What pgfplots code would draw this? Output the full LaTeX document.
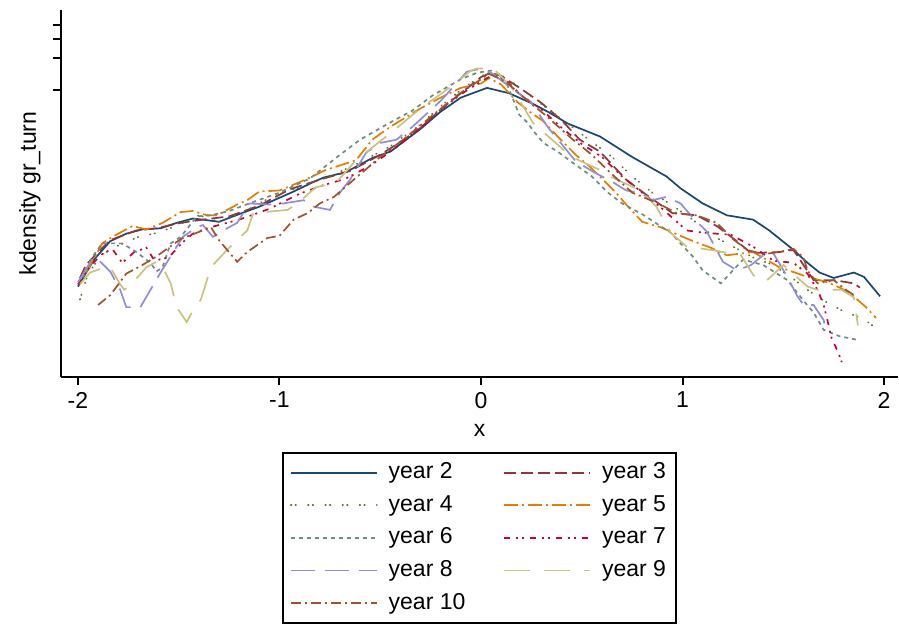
\documentclass[border=0pt]{standalone}
\usepackage{fontspec}
\setmainfont{Liberation Sans}
\usepackage{pgfplots}
\pgfplotsset{compat=1.18}

% Stata s2color
\definecolor{snavy}{HTML}{1A476F}
\definecolor{smaroon}{HTML}{90353B}
\definecolor{sgreen}{HTML}{55752F}
\definecolor{sorange}{HTML}{E37E00}
\definecolor{steal}{HTML}{6E8E84}
\definecolor{scran}{HTML}{C10534}
\definecolor{slav}{HTML}{938DD2}
\definecolor{skhaki}{HTML}{CAC27E}
\definecolor{ssienna}{HTML}{A0522D}

\begin{document}
\begin{tikzpicture}
\begin{axis}[
  name=ax,
  scale only axis,
  width=418.5pt, height=183.5pt,
  xmin=-2.084, xmax=2.069,
  ymin=-3.657, ymax=-0.259,
  axis x line*=bottom, axis y line*=left,
  axis line style={line width=1pt},
  tick align=outside,
  major tick length=4pt,
  tick style={line width=1pt, black},
  xtick={-2,-1,0,1,2},
  xticklabels={-2,-1,0,1,2},
  % y is log10 of the density: ticks at .1 .2 .3 .4, unlabelled
  ytick={-1,-0.699,-0.523,-0.398},
  yticklabels={},
  font=\fontsize{11.5}{13.8}\selectfont,
  tick label style={font=\fontsize{11.5}{13.8}\selectfont},
  xlabel={x},
  ylabel={kdensity gr\_turn},
  xlabel style={at={(axis description cs:0.5,-0.1444)}, anchor=center},
  ylabel style={at={(axis description cs:-0.037,0.5)}, anchor=center},
  every axis plot/.append style={line width=0.85pt},
  legend columns=2,
  legend cell align=left,
  legend image code/.code={\draw[#1] (0pt,0pt) -- (43pt,0pt);},
  legend style={
    at={(axis description cs:0.5,-0.2044)}, anchor=north,
    draw=black, line width=0.9pt,
    inner xsep=3.5pt, inner ysep=2.9pt,
    row sep=2.3pt,
    font=\fontsize{11.5}{13.8}\selectfont,
    nodes={inner sep=1.5pt, text height=8.5pt, text depth=2.5pt},
    /tikz/every odd column/.append style={column sep=4pt},
    /tikz/every even column/.append style={column sep=17.5pt},
  },
]

% year 2
\addplot[snavy] coordinates {
(-2.00,-2.82) (-1.92,-2.57) (-1.84,-2.40) (-1.76,-2.33) (-1.68,-2.29)
(-1.59,-2.28) (-1.51,-2.23) (-1.43,-2.19) (-1.38,-2.20) (-1.30,-2.22)
(-1.23,-2.17) (-1.10,-2.08) (-0.93,-1.94) (-0.83,-1.85) (-0.78,-1.81)
(-0.67,-1.76) (-0.54,-1.63) (-0.45,-1.57) (-0.40,-1.50) (-0.30,-1.36)
(-0.20,-1.20) (-0.10,-1.07) (0.03,-0.98) (0.14,-1.03) (0.26,-1.13)
(0.34,-1.21) (0.43,-1.31) (0.59,-1.43) (0.75,-1.62) (0.92,-1.80)
(0.99,-1.91) (1.10,-2.05) (1.22,-2.16) (1.35,-2.20) (1.43,-2.30)
(1.55,-2.48) (1.62,-2.60) (1.68,-2.69) (1.75,-2.74) (1.85,-2.69)
(1.90,-2.73) (1.98,-2.91)
};
\addlegendentry{year 2}

% year 3
\addplot[smaroon, dash pattern=on 6pt off 2.5pt] coordinates {
(-1.99,-2.74) (-1.96,-2.62) (-1.90,-2.50) (-1.84,-2.39) (-1.71,-2.30)
(-1.61,-2.28) (-1.49,-2.23) (-1.38,-2.20) (-1.25,-2.17) (-1.10,-2.07)
(-0.95,-1.92) (-0.80,-1.83) (-0.65,-1.75) (-0.50,-1.60) (-0.40,-1.48)
(-0.30,-1.35) (-0.20,-1.18) (-0.10,-1.03) (0.00,-0.88) (0.05,-0.84)
(0.10,-0.87) (0.20,-0.99) (0.30,-1.12) (0.40,-1.28) (0.49,-1.46)
(0.59,-1.57) (0.66,-1.71) (0.72,-1.83) (0.82,-1.97) (0.95,-2.14)
(1.07,-2.16) (1.17,-2.26) (1.27,-2.40) (1.34,-2.51) (1.48,-2.50)
(1.55,-2.48) (1.60,-2.62) (1.65,-2.76) (1.75,-2.76) (1.85,-2.79)
(1.88,-2.83)
};
\addlegendentry{year 3}

% year 4
\addplot[sgreen, line cap=round, dash pattern=on 0.3pt off 2pt on 0.3pt off 6pt] coordinates {
(-1.99,-2.94) (-1.95,-2.70) (-1.88,-2.52) (-1.80,-2.44) (-1.70,-2.36)
(-1.60,-2.32) (-1.50,-2.25) (-1.40,-2.16) (-1.30,-2.22) (-1.20,-2.15)
(-1.05,-2.00) (-0.90,-1.90) (-0.75,-1.80) (-0.60,-1.67) (-0.45,-1.52)
(-0.30,-1.32) (-0.20,-1.15) (-0.10,-1.00) (0.00,-0.87) (0.07,-0.83)
(0.15,-0.92) (0.25,-1.06) (0.35,-1.20) (0.45,-1.34) (0.55,-1.48)
(0.65,-1.62) (0.75,-1.80) (0.85,-1.95) (0.95,-2.07) (1.05,-2.20)
(1.15,-2.35) (1.25,-2.45) (1.35,-2.55) (1.45,-2.62) (1.55,-2.75)
(1.62,-2.85) (1.70,-2.95) (1.80,-3.05) (1.90,-3.12) (1.97,-3.22)
};
\addlegendentry{year 4}

% year 5
\addplot[sorange, dash pattern=on 7pt off 2pt on 1pt off 2pt] coordinates {
(-1.96,-2.69) (-1.91,-2.53) (-1.88,-2.42) (-1.83,-2.36) (-1.73,-2.26)
(-1.66,-2.29) (-1.58,-2.23) (-1.49,-2.13) (-1.43,-2.12) (-1.36,-2.16)
(-1.31,-2.16) (-1.28,-2.13) (-1.21,-2.06) (-1.16,-2.02) (-1.10,-1.94)
(-1.00,-1.93) (-0.87,-1.83) (-0.77,-1.74) (-0.62,-1.65) (-0.54,-1.46)
(-0.45,-1.34) (-0.37,-1.25) (-0.30,-1.17) (-0.20,-1.07) (-0.10,-0.98)
(0.00,-0.94) (0.04,-0.89) (0.10,-0.95) (0.18,-1.11) (0.24,-1.20)
(0.31,-1.29) (0.38,-1.43) (0.47,-1.60) (0.54,-1.71) (0.67,-1.95)
(0.72,-2.06) (0.80,-2.22) (0.89,-2.27) (1.04,-2.39) (1.14,-2.46)
(1.22,-2.53) (1.35,-2.50) (1.48,-2.64) (1.62,-2.73) (1.72,-2.78)
(1.78,-2.83) (1.83,-2.88) (1.91,-3.01) (1.96,-3.11)
};
\addlegendentry{year 5}

% year 6
\addplot[steal, dash pattern=on 2pt off 2pt] coordinates {
(-1.99,-2.80) (-1.93,-2.55) (-1.88,-2.42) (-1.78,-2.42) (-1.71,-2.50)
(-1.64,-2.60) (-1.61,-2.68) (-1.58,-2.64) (-1.54,-2.42) (-1.49,-2.36)
(-1.41,-2.17) (-1.34,-2.16) (-1.25,-2.12) (-1.15,-2.05) (-1.00,-1.95)
(-0.85,-1.82) (-0.70,-1.60) (-0.60,-1.46) (-0.45,-1.30) (-0.34,-1.19)
(-0.24,-1.05) (-0.10,-0.90) (-0.02,-0.84) (0.05,-0.82) (0.13,-0.95)
(0.19,-1.23) (0.23,-1.30) (0.26,-1.38) (0.31,-1.49) (0.38,-1.57)
(0.46,-1.68) (0.55,-1.80) (0.63,-1.95) (0.70,-2.05) (0.80,-2.15)
(0.94,-2.32) (1.05,-2.54) (1.10,-2.67) (1.19,-2.79) (1.22,-2.73)
(1.30,-2.57) (1.40,-2.62) (1.52,-2.76) (1.60,-2.95) (1.65,-3.06)
(1.70,-3.22) (1.78,-3.28) (1.86,-3.31)
};
\addlegendentry{year 6}

% year 7
\addplot[scran, dash pattern=on 3pt off 3pt on 1pt off 2pt on 1pt off 3pt] coordinates {
(-2.00,-2.80) (-1.94,-2.63) (-1.88,-2.52) (-1.83,-2.47) (-1.78,-2.60)
(-1.72,-2.50) (-1.66,-2.46) (-1.62,-2.58) (-1.55,-2.55) (-1.48,-2.41)
(-1.43,-2.33) (-1.36,-2.28) (-1.30,-2.25) (-1.20,-2.20) (-1.05,-2.10)
(-0.90,-1.96) (-0.78,-1.88) (-0.67,-1.82) (-0.54,-1.69) (-0.42,-1.53)
(-0.30,-1.35) (-0.20,-1.18) (-0.10,-1.04) (0.00,-0.92) (0.06,-0.86)
(0.12,-0.90) (0.20,-1.05) (0.30,-1.18) (0.40,-1.35) (0.50,-1.50)
(0.60,-1.62) (0.70,-1.80) (0.80,-1.95) (0.90,-2.10) (1.02,-2.30)
(1.10,-2.32) (1.24,-2.34) (1.35,-2.45) (1.45,-2.58) (1.55,-2.60)
(1.62,-2.70) (1.67,-2.85) (1.70,-2.99) (1.72,-3.14) (1.74,-3.30)
(1.77,-3.42) (1.79,-3.52)
};
\addlegendentry{year 7}

% year 8
\addplot[slav, dash pattern=on 12pt off 5pt] coordinates {
(-2.00,-2.78) (-1.94,-2.60) (-1.90,-2.57) (-1.84,-2.68) (-1.79,-2.85)
(-1.76,-3.01) (-1.69,-3.01) (-1.64,-2.85) (-1.59,-2.69) (-1.54,-2.54)
(-1.48,-2.36) (-1.41,-2.27) (-1.38,-2.25) (-1.33,-2.36) (-1.28,-2.30)
(-1.21,-2.23) (-1.15,-2.05) (-1.05,-2.06) (-0.98,-2.05) (-0.88,-2.02)
(-0.83,-2.08) (-0.75,-2.11) (-0.70,-1.95) (-0.65,-1.83) (-0.57,-1.58)
(-0.50,-1.49) (-0.42,-1.46) (-0.34,-1.34) (-0.20,-1.10) (-0.07,-0.83)
(-0.02,-0.81) (0.05,-0.84) (0.15,-0.98) (0.25,-1.12) (0.33,-1.34)
(0.47,-1.66) (0.56,-1.76) (0.66,-1.86) (0.72,-1.93) (0.79,-1.95)
(0.85,-2.02) (0.92,-1.99) (0.99,-2.05) (1.05,-2.18) (1.12,-2.31)
(1.20,-2.59) (1.27,-2.67) (1.34,-2.62) (1.40,-2.53) (1.45,-2.51)
(1.52,-2.73) (1.57,-2.91) (1.60,-2.99) (1.65,-2.99) (1.70,-3.13)
(1.71,-3.22)
};
\addlegendentry{year 8}

% year 9
\addplot[skhaki, dash pattern=on 13pt off 7pt] coordinates {
(-1.99,-2.80) (-1.94,-2.69) (-1.88,-2.65) (-1.84,-2.64) (-1.79,-2.80)
(-1.77,-2.85) (-1.73,-2.79) (-1.66,-2.64) (-1.61,-2.59) (-1.58,-2.64)
(-1.54,-2.79) (-1.51,-3.01) (-1.46,-3.15) (-1.43,-3.04) (-1.39,-2.94)
(-1.34,-2.64) (-1.26,-2.48) (-1.21,-2.39) (-1.16,-2.30) (-1.13,-2.14)
(-0.96,-2.11) (-0.91,-2.05) (-0.82,-1.90) (-0.72,-1.86) (-0.62,-1.65)
(-0.45,-1.40) (-0.30,-1.17) (-0.15,-0.97) (-0.05,-0.82) (-0.02,-0.80)
(0.06,-0.80) (0.15,-0.97) (0.26,-1.31) (0.34,-1.44) (0.45,-1.62)
(0.59,-1.74) (0.64,-1.80) (0.79,-1.93) (0.87,-2.08) (0.94,-2.32)
(1.02,-2.45) (1.14,-2.48) (1.29,-2.53) (1.35,-2.71) (1.38,-2.76)
(1.42,-2.76) (1.50,-2.62) (1.62,-2.82) (1.67,-2.85) (1.79,-2.85)
(1.85,-2.92) (1.87,-3.18)
};
\addlegendentry{year 9}

% year 10
\addplot[ssienna, dash pattern=on 5pt off 2pt on 1pt off 2pt] coordinates {
(-1.90,-2.99) (-1.84,-2.90) (-1.76,-2.70) (-1.68,-2.62) (-1.61,-2.54)
(-1.49,-2.38) (-1.34,-2.27) (-1.30,-2.39) (-1.26,-2.48) (-1.21,-2.59)
(-1.16,-2.50) (-1.06,-2.37) (-1.00,-2.35) (-0.93,-2.20) (-0.86,-2.14)
(-0.80,-2.05) (-0.73,-1.99) (-0.65,-1.86) (-0.50,-1.62) (-0.38,-1.45)
(-0.25,-1.25) (-0.12,-1.05) (0.00,-0.90) (0.04,-0.85) (0.12,-0.92)
(0.22,-1.08) (0.33,-1.25) (0.45,-1.45) (0.55,-1.60) (0.65,-1.78)
(0.75,-1.95) (0.88,-2.05) (0.97,-2.14) (1.07,-2.16) (1.17,-2.23)
(1.25,-2.38) (1.32,-2.48) (1.40,-2.52) (1.48,-2.50) (1.55,-2.47)
(1.60,-2.55) (1.62,-2.67) (1.67,-2.79) (1.75,-2.76) (1.81,-2.85)
(1.86,-2.91)
};
\addlegendentry{year 10}

\end{axis}
% margins of the original picture
\path (ax.south west) ++(-30.5pt,-124pt);
\path (ax.north west) ++(0,5pt);
\end{tikzpicture}
\end{document}
